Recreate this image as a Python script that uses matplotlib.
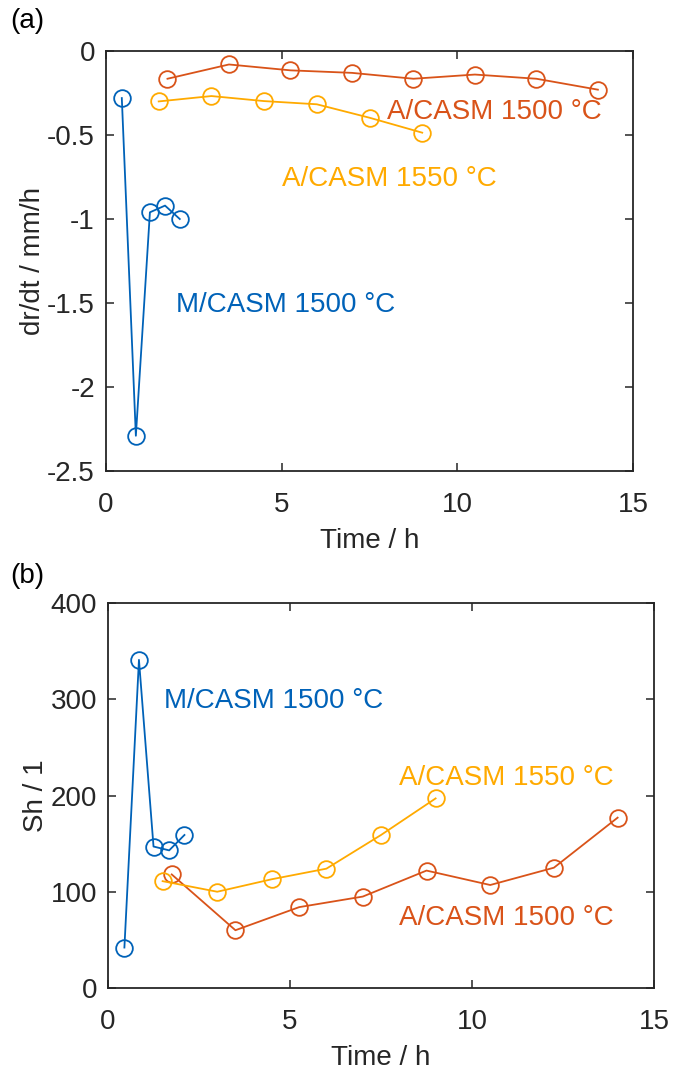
import matplotlib
matplotlib.use("Agg")
import matplotlib.pyplot as plt

plt.rcParams['font.family'] = ['Liberation Sans', 'DejaVu Sans']
plt.rcParams['font.size'] = 20

# series data
t_m1500 = [0.45, 0.85, 1.25, 1.68, 2.1]
t_a1500 = [1.75, 3.5, 5.25, 7.0, 8.75, 10.5, 12.25, 14.0]
t_a1550 = [1.5, 3.0, 4.5, 6.0, 7.5, 9.0]

drdt_m1500 = [-0.28, -2.29, -0.96, -0.92, -1.0]
drdt_a1500 = [-0.165, -0.08, -0.115, -0.13, -0.165, -0.14, -0.165, -0.23]
drdt_a1550 = [-0.30, -0.268, -0.298, -0.317, -0.397, -0.486]

sh_m1500 = [42, 341, 147, 143, 159]
sh_a1500 = [118, 60, 84, 95, 122, 107, 125, 177]
sh_a1550 = [111, 100, 113, 124, 159, 197]

xticks = [0, 5, 10, 15]
yticks_a = [-2.5, -2, -1.5, -1, -0.5, 0]
ylabels_a = ['-2.5', '-2', '-1.5', '-1', '-0.5', '0']
yticks_b = [0, 100, 200, 300, 400]

c_blue = '#0062B8'
c_red = '#D95319'
c_yel = '#FFAA00'
c_ax = '#262626'

fig = plt.figure(figsize=(6.73, 10.72), dpi=100)
ax1 = fig.add_axes([0.1575, 0.5606, 0.7831, 0.3918])
ax2 = fig.add_axes([0.1605, 0.0784, 0.8113, 0.359])

mk = dict(marker='o', markersize=12, markerfacecolor='none', markeredgewidth=1.3, linewidth=1.3)

#(a)
ax1.plot(t_m1500, drdt_m1500, color=c_blue, **mk)
ax1.plot(t_a1500, drdt_a1500, color=c_red, **mk)
ax1.plot(t_a1550, drdt_a1550, color=c_yel, **mk)
ax1.text(8.0, -0.36, 'A/CASM 1500 °C', color=c_red, va='center')
ax1.text(5.0, -0.76, 'A/CASM 1550 °C', color=c_yel, va='center')
ax1.text(2.0, -1.51, 'M/CASM 1500 °C', color=c_blue, va='center')
ax1.set_xlim(0, 15)
ax1.set_ylim(-2.5, 0)
ax1.set_yticks(yticks_a)
ax1.set_yticklabels(ylabels_a)
ax1.set_ylabel('dr/dt / mm/h', color=c_ax, labelpad=1)
ax1.set_xlabel('Time / h', color=c_ax, labelpad=7.5)

#(b)
ax2.plot(t_m1500, sh_m1500, color=c_blue, **mk)
ax2.plot(t_a1500, sh_a1500, color=c_red, **mk)
ax2.plot(t_a1550, sh_a1550, color=c_yel, **mk)
ax2.text(1.55, 298, 'M/CASM 1500 °C', color=c_blue, va='center')
ax2.text(8.0, 218, 'A/CASM 1550 °C', color=c_yel, va='center')
ax2.text(8.0, 73, 'A/CASM 1500 °C', color=c_red, va='center')
ax2.set_xlim(0, 15)
ax2.set_ylim(0, 400)
ax2.set_yticks(yticks_b)
ax2.set_ylabel('Sh / 1', color=c_ax, labelpad=1)
ax2.set_xlabel('Time / h', color=c_ax, labelpad=7.5)

for ax in [ax1, ax2]:
    ax.set_xticks(xticks)
    ax.tick_params(direction='in', length=6, width=1.1, top=True, right=True,
                   colors=c_ax, labelsize=20)
    ax.tick_params(axis='x', pad=15)
    ax.tick_params(axis='y', pad=8)
    for s in ax.spines.values():
        s.set_color(c_ax)
        s.set_linewidth(1.3)

fig.text(0.015, 0.980, '(a)', fontsize=20, va='center')
fig.text(0.015, 0.463, '(b)', fontsize=20, va='center')

fig.savefig('out.png', dpi=100)
